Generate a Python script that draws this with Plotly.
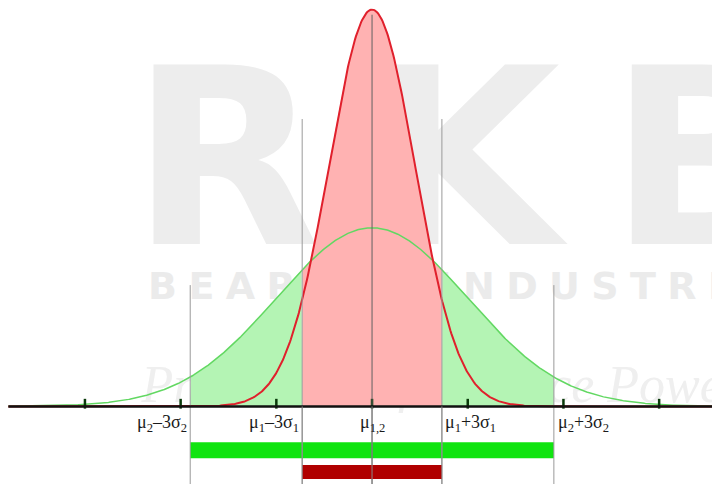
import numpy as np
import plotly.graph_objects as go

# ---- data (x in axis-tick units, mean at 0) ----
mu = 0.0
sigma1 = 0.45          # narrow (red) distribution
sigma2 = 1.0           # wide (green) distribution
tick_values = [-3, -2, -1, 0, 1, 2, 3]
band1 = [-0.73, 0.73]  # mu1 -/+ 3 sigma1 markers
band2 = [-1.90, 1.90]  # mu2 -/+ 3 sigma2 markers
labels = ["μ<sub>2</sub>–3σ<sub>2</sub>", "μ<sub>1</sub>–3σ<sub>1</sub>",
          "μ<sub>1,2</sub>", "μ<sub>1</sub>+3σ<sub>1</sub>", "μ<sub>2</sub>+3σ<sub>2</sub>"]
label_x = [band2[0], band1[0], mu, band1[1], band2[1]]
x_span = [-3.80, 3.64]


def pdf(x, m, s):
    return np.exp(-0.5 * ((x - m) / s) ** 2) / (s * np.sqrt(2 * np.pi))


x = np.linspace(x_span[0], x_span[1], 800)
y_red = pdf(x, mu, sigma1)
y_green = pdf(x, mu, sigma2)

RED_LINE = "#e0202c"
GREEN_LINE = "#62d862"
PINK_FILL = "#ffb2b2"
GREEN_FILL = "#b4f4b4"

fig = go.Figure()

# faint watermark (drawn first, so it sits beneath everything)
fig.add_trace(go.Scatter(x=[-2.52], y=[0.50], mode="text", text=["R\u2009K\u2009B"],
                         textposition="middle right", hoverinfo="skip",
                         textfont=dict(family="DejaVu Sans", size=246, color="#ededed", weight="bold"),
                         showlegend=False))
sp = "\u2009\u200a"
fig.add_trace(go.Scatter(x=[-2.34], y=[0.262], mode="text",
                         text=[sp.join("BEARING") + "\u2002" + sp + sp.join("INDUSTRIES")],
                         textposition="middle right", hoverinfo="skip",
                         textfont=dict(family="DejaVu Sans", size=38, color="#ebebeb", weight="bold"),
                         showlegend=False))
fig.add_trace(go.Scatter(x=[-2.41], y=[0.04], mode="text", text=["Premier Performance Power"],
                         textposition="middle right", hoverinfo="skip",
                         textfont=dict(family="Liberation Serif", size=52, color="#efefef", style="italic"),
                         showlegend=False))


def area(lo, hi, top):
    m = (x >= lo) & (x <= hi)
    xs = np.concatenate([[lo], x[m], [hi]])
    ys = np.concatenate([[0], top[m], [0]])
    return xs, ys


# green fills outside the narrow band
for lo, hi in [(band2[0], band1[0]), (band1[1], band2[1])]:
    xs, ys = area(lo, hi, y_green)
    fig.add_trace(go.Scatter(x=xs, y=ys, fill="toself", fillcolor=GREEN_FILL, mode="none",
                             hoverinfo="skip", showlegend=False))
# pink fill inside the narrow band
xs, ys = area(band1[0], band1[1], np.maximum(y_red, y_green))
fig.add_trace(go.Scatter(x=xs, y=ys, fill="toself", fillcolor=PINK_FILL, mode="none",
                         hoverinfo="skip", showlegend=False))

Y_BOTTOM = -0.1733
Y_TOP = 0.89

# vertical marker lines
for bx in band2:
    fig.add_shape(type="line", x0=bx, x1=bx, y0=Y_BOTTOM, y1=0.271,
                  line=dict(color="#9a9a9a", width=1))
for bx in band1:
    fig.add_shape(type="line", x0=bx, x1=bx, y0=Y_BOTTOM, y1=0.642,
                  line=dict(color="#9a9a9a", width=1))
fig.add_shape(type="line", x0=mu, x1=mu, y0=Y_BOTTOM, y1=0.875,
              line=dict(color="#606060", width=1))

# curves
fig.add_trace(go.Scatter(x=x, y=y_green, mode="lines", line=dict(color=GREEN_LINE, width=1.5),
                         hoverinfo="skip", showlegend=False))
fig.add_trace(go.Scatter(x=x, y=y_red, mode="lines", line=dict(color=RED_LINE, width=2),
                         hoverinfo="skip", showlegend=False))

# horizontal axis and ticks
fig.add_shape(type="line", x0=x_span[0], x1=x_span[1], y0=0, y1=0,
              line=dict(color="#111111", width=2.5))
fig.add_trace(go.Scatter(x=tick_values, y=[0.006] * len(tick_values), mode="markers",
                         marker=dict(symbol="line-ns", size=7, line=dict(color="#0a3a0a", width=2.5)),
                         hoverinfo="skip", showlegend=False))

# range bars
fig.add_shape(type="rect", x0=band2[0], x1=band2[1], y0=-0.1156, y1=-0.080,
              fillcolor="#10e410", line=dict(width=0), layer="below")
fig.add_shape(type="rect", x0=band1[0], x1=band1[1], y0=-0.162, y1=-0.131,
              fillcolor="#b00000", line=dict(width=0), layer="above")
# lines continue over the bars
for bx in band1 + [mu]:
    fig.add_shape(type="line", x0=bx, x1=bx, y0=Y_BOTTOM, y1=0,
                  line=dict(color="#8a8a8a", width=1), layer="above")

# labels
anchors = ["right", "right", "center", "left", "left"]
shifts = [-1, -1, 0, 1, 2]
for t, lx, a, s in zip(labels, label_x, anchors, shifts):
    fig.add_annotation(x=lx, y=-0.038, text=t, showarrow=False, xanchor=a, yanchor="middle",
                       xshift=s, font=dict(family="Liberation Serif", size=18, color="#1a1a1a"))

# the page adds an 8px body margin, so the figure is sized 712x476
fig.update_layout(
    width=712, height=476,
    margin=dict(l=0, r=0, t=0, b=0),
    paper_bgcolor="white", plot_bgcolor="white",
    xaxis=dict(range=[-3.804, 3.636], visible=False, fixedrange=True),
    yaxis=dict(range=[Y_BOTTOM, Y_TOP], visible=False, fixedrange=True),
    showlegend=False,
)

fig.write_html("out.html")
